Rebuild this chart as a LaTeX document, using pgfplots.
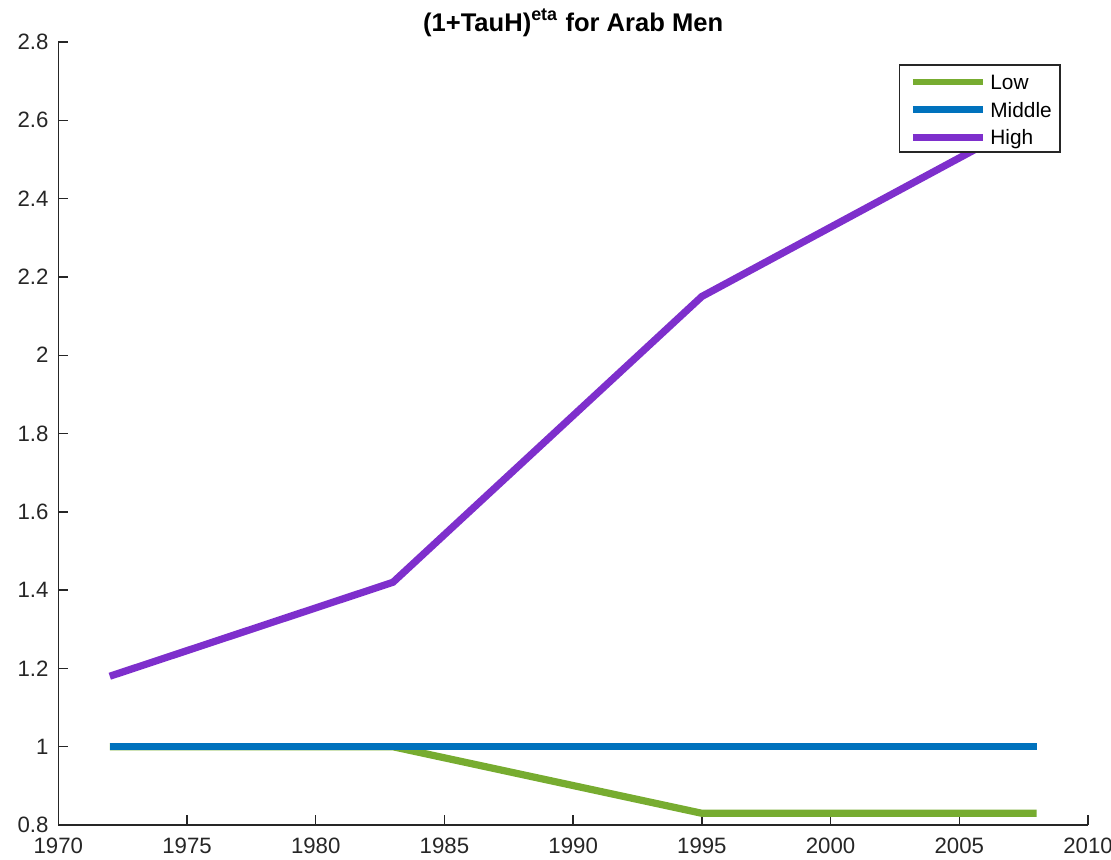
\documentclass[border=0pt]{standalone}
\usepackage{fontspec}
\setmainfont{Liberation Sans}
\usepackage{pgfplots}
\pgfplotsset{compat=1.18}
\definecolor{lowc}{RGB}{119,172,48}
\definecolor{midc}{RGB}{0,114,189}
\definecolor{highc}{RGB}{126,47,204}
\definecolor{axc}{RGB}{38,38,38}
\begin{document}
\begin{tikzpicture}
\begin{axis}[
  scale only axis,
  width=370.7pt, height=281.9pt,
  xmin=1970, xmax=2010, ymin=0.8, ymax=2.8,
  axis lines*=left,
  axis line style={axc, line width=0.5pt},
  xtick={1970,1975,...,2010},
  ytick={0.8,1.0,...,2.8},
  tick align=inside,
  major tick length=3.6pt,
  tick style={axc, line width=0.5pt},
  xticklabel style={/pgf/number format/1000 sep={}, yshift=-1pt},
  yticklabel style={/pgf/number format/fixed, /pgf/number format/precision=1},
  /pgf/number format/assume math mode=true,
  tick label style={font=\fontsize{8}{9.6}\selectfont, text=axc},
  title={\textbf{(1+TauH)\textsuperscript{eta} for Arab Men}},
  title style={font=\fontsize{9.2}{11}\selectfont, yshift=-7.5pt},
  legend style={at={(1,1)}, anchor=north east, xshift=-9.8pt, yshift=-8pt,
    draw=axc, line width=0.5pt, font=\fontsize{7.5}{9}\selectfont, row sep=-0.3pt,
    inner xsep=2pt, inner ysep=0.5pt,
    nodes={inner xsep=1pt, text height=6.3pt, text depth=0pt}},
  legend cell align=left,
  legend image code/.code={\path (0pt,-2.6pt) (27.1pt,2.6pt); \draw[#1, line width=2.5pt] (1.5pt,-0.5pt) -- (26.7pt,-0.5pt);},
]
\addplot[lowc, line width=2.6pt] coordinates {(1972,1) (1983,1) (1995,0.83) (2008,0.83)};
\addplot[midc, line width=2.6pt] coordinates {(1972,1) (1983,1) (1995,1) (2008,1)};
\addplot[highc, line width=2.6pt] coordinates {(1972,1.18) (1983,1.42) (1995,2.15) (2008,2.61)};
\legend{Low, Middle, High}
\coordinate (sw) at (rel axis cs:0,0);
\coordinate (ne) at (rel axis cs:1,1);
\end{axis}
\pgfresetboundingbox
\path ([shift={(-20.99pt,-12.24pt)}]sw) rectangle ([shift={(8.28pt,15.12pt)}]ne);
\end{tikzpicture}
\end{document}
